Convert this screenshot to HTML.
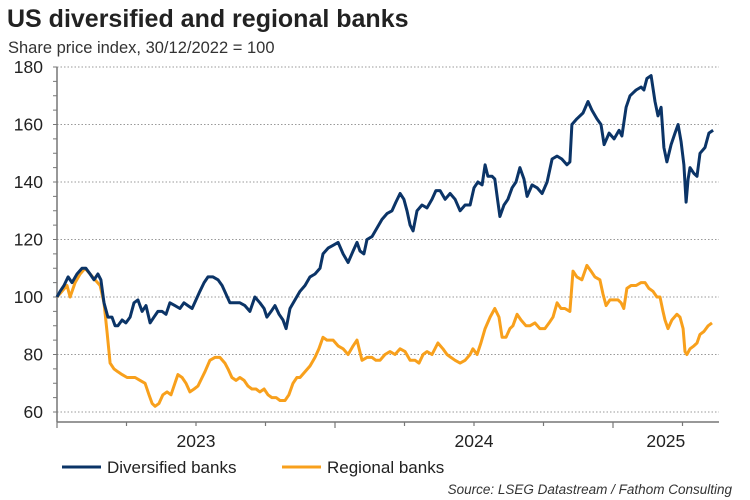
<!DOCTYPE html>
<html><head><meta charset="utf-8">
<style>
body{margin:0;background:#fff;width:750px;height:500px;overflow:hidden;font-family:"Liberation Sans",Arial,sans-serif;}
svg{display:block}
</style></head>
<body>
<svg id="chart" width="750" height="500" xmlns="http://www.w3.org/2000/svg">
<text x="7" y="27" font-size="25" font-weight="bold" fill="#222">US diversified and regional banks</text>
<text x="8" y="53" font-size="16.5" fill="#333">Share price index, 30/12/2022 = 100</text>
<g id="grid"></g>
<g id="axes"></g>
<g id="series"></g>
<g>
<g><line x1="62" y1="467" x2="101" y2="467" stroke="#0b3467" stroke-width="3"/><text x="107" y="473" font-size="17" fill="#222">Diversified banks</text></g>
<g><line x1="282" y1="467" x2="321" y2="467" stroke="#f8a01c" stroke-width="3"/><text x="327" y="473" font-size="17" fill="#222">Regional banks</text></g>
</g>
<text x="732" y="494" font-size="13.5" font-style="italic" text-anchor="end" fill="#333">Source: LSEG Datastream / Fathom Consulting</text>
</svg>
<script>
const yTicks=[60,80,100,120,140,160,180];
const yearLabels=["2023","2024","2025"];
const yearLabelPos=[0.5,1.5,2.19];
const divDates=[0,.011,.025,.040,.054,.072,.090,.104,.119,.133,.147,.158,.169,.183,.198,.209,.219,.234,.248,.263,.277,.291,.306,.320,.335,.349,.363,.378,.392,.406,.424,.442,.457,.471,.486,.500,.514,.529,.543,.561,.579,.594,.608,.622,.640,.658,.676,.694,.712,.730,.745,.755,.770,.784,.799,.813,.824,.838,.856,.874,.892,.910,.928,.946,.957,.975,.993,1.011,1.029,1.047,1.065,1.079,1.090,1.104,1.115,1.133,1.151,1.169,1.187,1.205,1.219,1.234,1.248,1.259,1.270,1.281,1.295,1.313,1.331,1.349,1.363,1.378,1.396,1.414,1.432,1.450,1.468,1.486,1.500,1.514,1.529,1.540,1.550,1.565,1.575,1.586,1.593,1.608,1.622,1.637,1.651,1.665,1.680,1.691,1.709,1.727,1.745,1.763,1.781,1.799,1.816,1.834,1.845,1.852,1.870,1.892,1.910,1.924,1.942,1.957,1.968,1.986,2.004,2.022,2.032,2.047,2.061,2.083,2.101,2.111,2.122,2.137,2.151,2.162,2.173,2.183,2.194,2.209,2.223,2.234,2.245,2.255,2.263,2.270,2.277,2.291,2.302,2.313,2.331,2.345,2.360];
const divValues=[100,102,104,107,105,108,110,110,108,106,108,106,98,93,93,90,90,92,91,93,98,99,95,97,91,93,95,95,94,98,97,96,98,97,96,99,102,105,107,107,106,104,101,98,98,98,97,95,100,98,96,93,95,97,94,92,89,96,99,102,104,107,108,110,115,117,118,119,115,112,116,119,116,115,120,121,124,127,129,130,133,136,134,130,125,123,130,132,131,134,137,137,134,136,134,130,132,132,138,140,139,146,142,142,141,133,128,132,134,138,140,145,141,135,139,138,136,140,148,149,148,146,147,160,162,164,168,165,162,160,153,157,155,158,156,166,170,172,173,172,176,177,168,163,166,152,147,153,157,160,154,146,133,141,145,143,142,150,152,157,158];
const regDates=[0,.018,.036,.047,.065,.083,.101,.119,.137,.155,.169,.180,.191,.205,.219,.234,.252,.266,.281,.299,.317,.331,.342,.353,.367,.381,.396,.410,.424,.435,.450,.464,.478,.493,.507,.522,.532,.550,.568,.586,.604,.615,.629,.644,.658,.673,.687,.701,.716,.730,.745,.759,.773,.788,.802,.820,.834,.849,.863,.874,.892,.910,.928,.942,.957,.971,.993,1.011,1.029,1.047,1.065,1.079,1.097,1.115,1.133,1.147,1.162,1.180,1.198,1.216,1.234,1.252,1.270,1.288,1.302,1.317,1.331,1.349,1.370,1.388,1.403,1.417,1.432,1.450,1.468,1.486,1.496,1.511,1.525,1.540,1.558,1.575,1.590,1.601,1.615,1.629,1.640,1.655,1.669,1.687,1.701,1.719,1.737,1.755,1.770,1.784,1.799,1.813,1.827,1.845,1.856,1.870,1.888,1.906,1.921,1.935,1.953,1.964,1.975,1.989,2.004,2.018,2.029,2.039,2.050,2.065,2.083,2.101,2.115,2.129,2.144,2.158,2.169,2.180,2.187,2.198,2.212,2.230,2.241,2.252,2.259,2.266,2.277,2.291,2.302,2.313,2.327,2.342,2.356];
const regValues=[100,102,104,100,105,108,110,108,106,104,98,88,77,75,74,73,72,72,72,71,70,66,63,62,63,66,67,66,70,73,72,70,67,68,69,72,74,78,79,79,77,75,72,71,72,71,69,68,68,67,68,66,65,65,64,64,66,70,72,72,74,76,79,82,86,85,85,83,82,80,83,85,78,79,79,78,78,80,81,80,82,81,78,78,77,80,81,80,84,82,80,79,78,77,78,80,82,80,84,89,93,96,93,86,86,89,90,94,92,90,90,91,89,89,91,93,98,96,96,95,109,107,106,111,109,107,106,101,97,99,99,99,98,96,103,104,104,105,105,103,102,100,100,95,92,89,92,94,93,89,81,80,82,83,84,87,88,90,91];

const X0=57,X1=719,YT=67,YB=412,AXY=422;
const PXY=278;
function xs(t){return X0+t*PXY;}
function ys(v){return YB-(v-60)*(YB-YT)/120;}
const NS="http://www.w3.org/2000/svg";
function mk(tag,attrs,parent){const e=document.createElementNS(NS,tag);for(const k in attrs)e.setAttribute(k,attrs[k]);parent.appendChild(e);return e;}
const grid=document.getElementById('grid'),axes=document.getElementById('axes'),series=document.getElementById('series');
yTicks.forEach(v=>{
  const l=mk('line',{x1:X0,x2:X1,y1:ys(v),y2:ys(v),stroke:'#999','stroke-width':1,'stroke-dasharray':'1.5,2'},grid);
  
  
  const t=mk('text',{x:43,y:ys(v)+6,'font-size':17.5,'text-anchor':'end',fill:'#222'},axes);
  t.textContent=v;
  
  
});
for(let v=60;v<=180;v+=5){mk('line',{x1:X0-4,x2:X0,y1:ys(v),y2:ys(v),stroke:'#777','stroke-width':1},axes);}
const ya=mk('line',{x1:X0,x2:X0,y1:YT,y2:AXY,stroke:'#777','stroke-width':1.5},axes);


const xa=mk('line',{x1:X0,x2:X1,y1:AXY,y2:AXY,stroke:'#777','stroke-width':1.5},axes);


for(let q=0;q<=9;q++){mk('line',{x1:xs(q/4),x2:xs(q/4),y1:AXY,y2:AXY+(q%4==0?6:4),stroke:'#777','stroke-width':1.2},axes);}
yearLabels.forEach((lab,i)=>{
  const t=mk('text',{x:xs(yearLabelPos[i]),y:447,'font-size':17.5,'text-anchor':'middle',fill:'#222'},axes);
  t.textContent=lab;
  
  
});
function path(d,v){return d.map((t,i)=>(i?'L':'M')+xs(t).toFixed(1)+','+ys(v[i]).toFixed(1)).join('');}
const pr=mk('path',{d:path(regDates,regValues),fill:'none',stroke:'#f8a01c','stroke-width':3,'stroke-linejoin':'round'},series);


const pd=mk('path',{d:path(divDates,divValues),fill:'none',stroke:'#0b3467','stroke-width':3,'stroke-linejoin':'round'},series);


</script>
</body></html>
